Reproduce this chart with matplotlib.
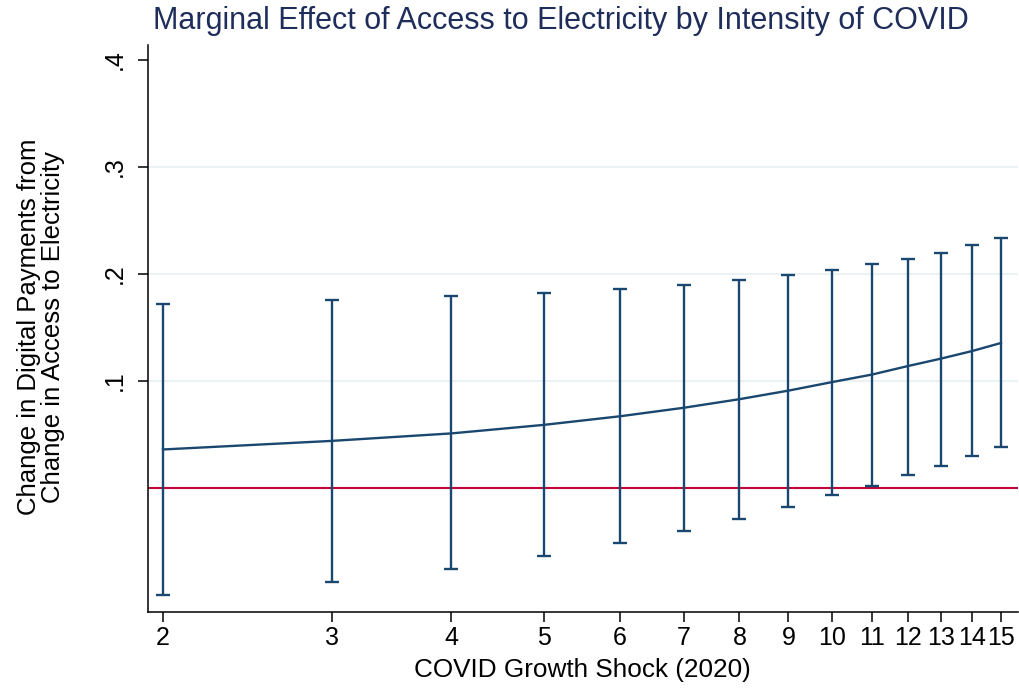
import numpy as np
import matplotlib
matplotlib.use("Agg")
import matplotlib.pyplot as plt
from matplotlib.ticker import FixedLocator, NullLocator

plt.rcParams['font.family'] = ['Liberation Sans', 'DejaVu Sans']

# COVID growth shock values (x) and marginal effect estimates with 95% CIs
shock = [2, 3, 4, 5, 6, 7, 8, 9, 10, 11, 12, 13, 14, 15]
effect = [0.036, 0.044, 0.051, 0.059, 0.067, 0.075, 0.083, 0.091, 0.099, 0.106, 0.114, 0.121, 0.128, 0.1355]
ci_upper = [0.172, 0.176, 0.179, 0.182, 0.186, 0.190, 0.194, 0.199, 0.204, 0.209, 0.214, 0.220, 0.227, 0.234]
ci_lower = [-0.100, -0.088, -0.076, -0.064, -0.051, -0.040, -0.029, -0.018, -0.007, 0.002, 0.012, 0.021, 0.030, 0.038]
y_ticks = [0.1, 0.2, 0.3, 0.4]
y_tick_labels = [".1", ".2", ".3", ".4"]

navy = "#1a476f"
cranberry = "#c10534"
grid_col = "#eaf2f3"

W, H = 1020, 692
fig = plt.figure(figsize=(W / 100, H / 100), dpi=100)
ax = fig.add_axes([148 / W, (H - 612) / H, 870 / W, 567 / H])

x = np.array(shock, dtype=float)
ax.set_xscale("log")
ax.set_xlim(1.929, 15.63)
ax.set_ylim(-0.1159, 0.414)

for yv in [0.1, 0.2, 0.3]:
    ax.axhline(yv, color=grid_col, lw=1.5, zorder=0)

ax.axhline(0, color=cranberry, lw=1.5, zorder=1)

ax.errorbar(x, effect,
            yerr=[np.array(effect) - np.array(ci_lower), np.array(ci_upper) - np.array(effect)],
            fmt="none", ecolor=navy, elinewidth=1.7, capsize=4.8, capthick=1.7, zorder=2)
ax.plot(x, effect, color=navy, lw=1.7, zorder=3)

ax.xaxis.set_major_locator(FixedLocator(shock))
ax.xaxis.set_minor_locator(NullLocator())
ax.set_xticklabels([str(s) for s in shock])
ax.set_yticks(y_ticks)
ax.set_yticklabels(y_tick_labels, rotation=90, va="center")

ax.tick_params(axis="both", length=7, width=1.1, labelsize=18, color="black")
ax.tick_params(axis="x", pad=3)
ax.tick_params(axis="y", pad=8)

for side in ["top", "right"]:
    ax.spines[side].set_visible(False)
for side in ["left", "bottom"]:
    ax.spines[side].set_linewidth(1.1)

fig.text(582 / W, (H - 670) / H, "COVID Growth Shock (2020)", fontsize=18.8,
         ha="center", va="center")
fig.text(41 / W, (H - 327) / H, "Change in Digital Payments from\nChange in Access to Electricity",
         fontsize=18.5, rotation=90, ha="center", va="center", linespacing=0.95,
         multialignment="center")
fig.text(561 / W, (H - 21) / H, "Marginal Effect of Access to Electricity by Intensity of COVID",
         fontsize=22, color="#1e2d5a", ha="center", va="center")

fig.savefig("out.png", dpi=100)
